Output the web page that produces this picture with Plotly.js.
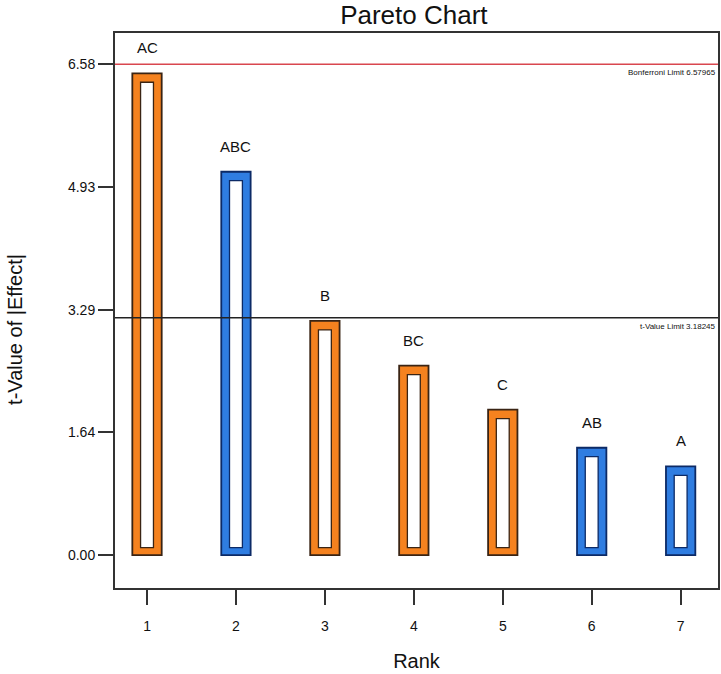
<!DOCTYPE html>
<html>
<head>
<meta charset="utf-8">
<script src="https://cdn.plot.ly/plotly-3.0.1.min.js"></script>
<style>html,body{margin:0;padding:0;background:#fff;}</style>
</head>
<body>
<div id="chart" style="width:721px;height:674px;"></div>
<script>
// Data
const ranks = [1, 2, 3, 4, 5, 6, 7];
const terms = ["AC", "ABC", "B", "BC", "C", "AB", "A"];
const tValues = [6.46, 5.14, 3.14, 2.54, 1.95, 1.44, 1.19];
const signs = ["pos", "neg", "pos", "pos", "pos", "neg", "neg"];
const yTickVals = [0, 1.645, 3.29, 4.935, 6.58];
const yTickText = ["0.00", "1.64", "3.29", "4.93", "6.58"];
const limitNames = ["Bonferroni Limit 6.57965", "t-Value Limit 3.18245"];
const limitValues = [6.57965, 3.18245];
const limitColors = ["#d9474f", "#222222"];

const fillColor = {pos: "#f5821f", neg: "#2f7de1"};
const edgeColor = {pos: "#3a2414", neg: "#0c2a66"};
const FONT = "Liberation Sans, Arial, sans-serif";

const outer = {
  type: "bar", x: ranks, y: tValues, width: 0.33,
  marker: {color: signs.map(s => fillColor[s]), line: {color: signs.map(s => edgeColor[s]), width: 1.8}},
  hoverinfo: "skip", showlegend: false
};
const inner = {
  type: "bar", x: ranks, y: tValues.map(v => v - 0.22), base: 0.1, width: 0.145,
  marker: {color: "#ffffff", line: {color: signs.map(s => edgeColor[s]), width: 1.3}},
  hoverinfo: "skip", showlegend: false
};

const annotations = terms.map((t, i) => ({
  x: ranks[i], y: tValues[i], xref: "x", yref: "y", text: t, showarrow: false,
  yanchor: "bottom", yshift: 15, font: {family: FONT, size: 15, color: "#111"}
}));
limitNames.forEach((n, i) => annotations.push({
  x: 1, xref: "paper", y: limitValues[i], yref: "y", text: n, showarrow: false,
  xanchor: "right", yanchor: "top", yshift: -2,
  font: {family: FONT, size: 8, color: "#111"}
}));
annotations.push({
  x: 0, xref: "paper", xshift: -100, xanchor: "center",
  y: 0.465, yref: "paper", yanchor: "middle", textangle: -90,
  text: "t-Value of |Effect|", showarrow: false,
  font: {family: FONT, size: 20, color: "#111"}
});

const shapes = limitValues.map((v, i) => ({
  type: "line", xref: "paper", x0: 0, x1: 1, yref: "y", y0: v, y1: v,
  line: {color: limitColors[i], width: 1.5}
}));

const layout = {
  width: 721, height: 674,
  margin: {l: 115, r: 3, t: 33, b: 86},
  paper_bgcolor: "#fff", plot_bgcolor: "#fff",
  barmode: "overlay",
  font: {family: FONT, color: "#111"},
  title: {text: "Pareto Chart", x: 0.574, xanchor: "center", y: 0.978, yanchor: "middle",
          font: {size: 26, color: "#111"}},
  xaxis: {
    range: [0.64, 7.42], tickvals: ranks, ticktext: ranks.map(String),
    ticks: "outside", ticklen: 15, tickwidth: 2, tickcolor: "#333",
    showline: true, linecolor: "#333", linewidth: 2, mirror: true,
    showgrid: false, zeroline: false, ticklabelstandoff: 9,
    tickfont: {size: 14},
    title: {text: "Rank", font: {size: 20}, standoff: 21}
  },
  yaxis: {
    range: [-0.44, 7.0], tickvals: yTickVals, ticktext: yTickText,
    ticks: "outside", ticklen: 15, tickwidth: 2, tickcolor: "#333",
    showline: true, linecolor: "#333", linewidth: 2, mirror: true,
    showgrid: false, zeroline: false,
    tickfont: {size: 14}
  },
  annotations: annotations,
  shapes: shapes
};

Plotly.newPlot("chart", [outer, inner], layout, {displayModeBar: false, staticPlot: true});
</script>
</body>
</html>
